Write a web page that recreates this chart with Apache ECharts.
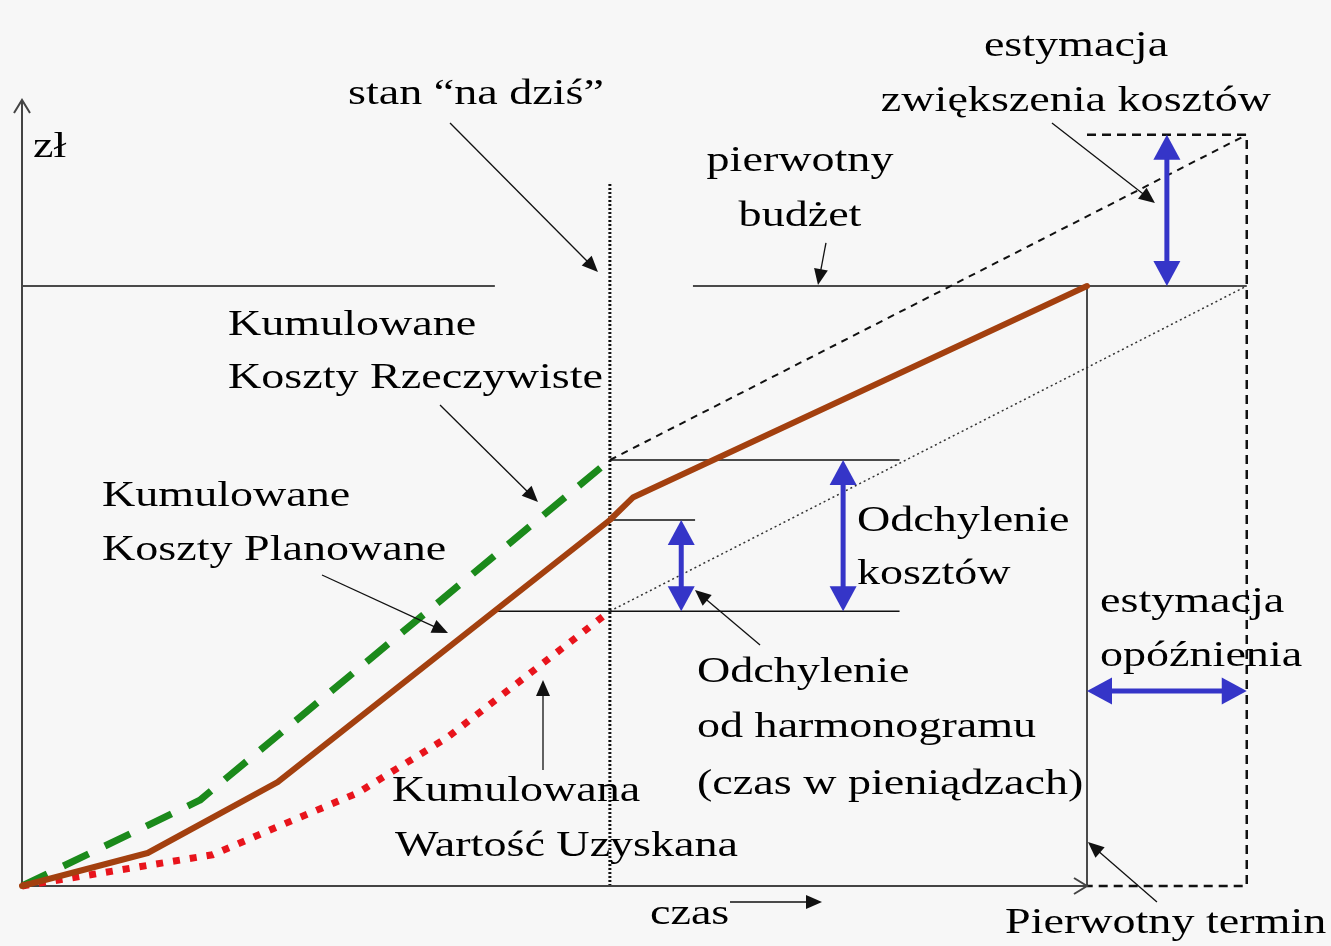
<!DOCTYPE html>
<html><head><meta charset="utf-8">
<script src="https://cdn.jsdelivr.net/npm/echarts@6/dist/echarts.min.js"></script>
<style>html,body{margin:0;padding:0;background:#f7f7f7}#c{width:1331px;height:946px}</style>
</head><body><div id="c"></div>
<script>
// ---------- data (time units: original deadline = 100, money units: original budget = 100)
const TODAY = 55.2;
const BUDGET = 100;
const ORIGINAL_END = 100;
const ESTIMATED_END = 115;
const EAC = 125.2;           // estimated cost at completion
const Y_TOP = 131;           // end of money axis
const TODAY_LINE_TOP = 117.3;

const pvTime  = [0, 11.8, 24.0, 55.2, 57.4, 100];
const pvValue = [0, 5.5, 17.3, 61, 64.8, 100];
const acTime  = [0, 16.7, 55.2];
const acValue = [0, 14.3, 71];
const evTime  = [0, 17.9, 23.9, 31.5, 39.9, 55.2];
const evValue = [0, 5.2, 9.8, 15.5, 24.7, 45.8];

const PV_TODAY = 61, AC_TODAY = 71, EV_TODAY = 45.8;

// reference-line extents (time units)
const budgetLeftEnd = 44.4, budgetRightStart = 63;
const acRefEnd = 82.4, pvRefStart = 55.5, pvRefEnd = 63.2, evRefStart = 44.2, evRefEnd = 82.4;
// double-arrow positions
const CV_X = 77.1, SV_X = 61.9, EAC_ARROW_X = 107.5, DELAY_Y = 32.5;

// annotation pointer arrows [fromT, fromV, toT, toV]
const pointerArrows = [
  [40.19, 127.17, 54.08, 102.33],   // stan "na dziś"
  [75.49, 107.17, 74.74, 100.17],   // pierwotny budżet
  [96.71, 127.17, 106.38, 113.83],  // estymacja zwiększenia kosztów
  [39.25, 80.17, 48.45, 64.0],      // Koszty Rzeczywiste
  [28.17, 51.83, 40.0, 42.17],      // Koszty Planowane
  [48.92, 19.33, 48.92, 34.33],     // Wartość Uzyskana
  [69.3, 40.17, 63.19, 49.33],      // Odchylenie od harmonogramu
  [106.57, -2.67, 100.09, 7.33],    // Pierwotny termin
  [66.48, -2.67, 75.12, -2.67]      // czas ->
];

const labels = [
  ['zł', 33, 148, 'left'],
  ['stan “na dziś”', 348, 95, 'left'],
  ['estymacja', 1076, 47, 'center'],
  ['zwiększenia kosztów', 1076, 102, 'center'],
  ['pierwotny', 800, 162, 'center'],
  ['budżet', 800, 217, 'center'],
  ['Kumulowane', 228, 326, 'left'],
  ['Koszty Rzeczywiste', 228, 379, 'left'],
  ['Kumulowane', 102, 497, 'left'],
  ['Koszty Planowane', 102, 551, 'left'],
  ['Odchylenie', 857, 522, 'left'],
  ['kosztów', 857, 575, 'left'],
  ['estymacja', 1100, 603, 'left'],
  ['opóźnienia', 1100, 657, 'left'],
  ['Odchylenie', 697, 673, 'left'],
  ['od harmonogramu', 697, 728, 'left'],
  ['(czas w pieniądzach)', 697, 785, 'left'],
  ['Kumulowana', 392, 792, 'left'],
  ['Wartość Uzyskana', 395, 847, 'left'],
  ['czas', 650, 915, 'left'],
  ['Pierwotny termin', 1005, 924, 'left']
];

// ---------- layout
const W = 1331, H = 946, ORIGIN = [22, 886], X_PX = 10.65, Y_PX = 6;
const zip = (a, b) => a.map((v, i) => [v, b[i]]);

function seg(name, pts, style, z) {
  return { type: 'line', name, data: pts, showSymbol: false, symbol: 'none', silent: true, z: z || 2,
    lineStyle: Object.assign({ cap: 'butt', join: 'round' }, style) };
}

function arrowSeries(name, data, st) {
  return {
    type: 'custom', name, coordinateSystem: 'cartesian2d', silent: true, z: st.z || 5,
    encode: { x: [0, 2], y: [1, 3] }, data,
    renderItem(params, api) {
      const a = api.coord([api.value(0), api.value(1)]);
      const b = api.coord([api.value(2), api.value(3)]);
      const dx = b[0] - a[0], dy = b[1] - a[1], L = Math.hypot(dx, dy);
      const ux = dx / L, uy = dy / L, nx = -uy, ny = ux;
      const hl = st.headLen, hw = st.headWidth / 2;
      const head = (tip, sx, sy) => {
        const bx = tip[0] - sx * hl, by = tip[1] - sy * hl;
        const pts = [[bx + nx * hw, by + ny * hw], tip, [bx - nx * hw, by - ny * hw]];
        return st.open
          ? { type: 'polyline', shape: { points: pts }, style: { stroke: st.color, lineWidth: st.width, fill: null } }
          : { type: 'polygon', shape: { points: pts }, style: { fill: st.color } };
      };
      let s = a, e = b;
      if (!st.open) {
        e = [b[0] - ux * hl * 0.8, b[1] - uy * hl * 0.8];
        if (st.double) s = [a[0] + ux * hl * 0.8, a[1] + uy * hl * 0.8];
      }
      const children = [
        { type: 'line', shape: { x1: s[0], y1: s[1], x2: e[0], y2: e[1] }, style: { stroke: st.color, lineWidth: st.width } },
        head(b, ux, uy)
      ];
      if (st.double) children.push(head(a, -ux, -uy));
      return { type: 'group', children };
    }
  };
}

const BLACK = '#111';
const chart = echarts.init(document.getElementById('c'), null, { renderer: 'canvas' });
chart.setOption({
  backgroundColor: '#f7f7f7',
  animation: false,
  grid: { left: 0, right: 0, top: 0, bottom: 0, containLabel: false },
  xAxis: { type: 'value', min: -ORIGIN[0] / X_PX, max: (W - ORIGIN[0]) / X_PX,
    axisLine: { show: false }, axisTick: { show: false }, axisLabel: { show: false }, splitLine: { show: false } },
  yAxis: { type: 'value', min: -(H - ORIGIN[1]) / Y_PX, max: ORIGIN[1] / Y_PX,
    axisLine: { show: false }, axisTick: { show: false }, axisLabel: { show: false }, splitLine: { show: false } },
  series: [
    seg('today', [[TODAY, 0], [TODAY, TODAY_LINE_TOP]], { color: BLACK, width: 3, type: [2, 2] }),
    seg('budgetL', [[0, BUDGET], [budgetLeftEnd, BUDGET]], { color: BLACK, width: 1.5 }),
    seg('budgetR', [[budgetRightStart, BUDGET], [ESTIMATED_END, BUDGET]], { color: BLACK, width: 1.5 }),
    seg('acRef', [[TODAY, AC_TODAY], [acRefEnd, AC_TODAY]], { color: BLACK, width: 1.5 }),
    seg('pvRef', [[pvRefStart, PV_TODAY], [pvRefEnd, PV_TODAY]], { color: BLACK, width: 1.5 }),
    seg('evRef', [[evRefStart, EV_TODAY], [evRefEnd, EV_TODAY]], { color: BLACK, width: 1.5 }),
    seg('origEnd', [[ORIGINAL_END, 0], [ORIGINAL_END, BUDGET]], { color: BLACK, width: 1.5 }),
    seg('estBox', [[ORIGINAL_END, EAC], [ESTIMATED_END, EAC], [ESTIMATED_END, 0], [ORIGINAL_END, 0]],
      { color: BLACK, width: 2.5, type: [9, 6] }),
    seg('acForecast', [[TODAY, AC_TODAY], [ESTIMATED_END, EAC]], { color: BLACK, width: 2, type: [7, 6] }),
    seg('evForecast', [[TODAY, EV_TODAY], [ESTIMATED_END, BUDGET]], { color: '#333', width: 1.5, type: [2, 3] }),
    arrowSeries('axes', [[0, 0, 0, Y_TOP], [0, 0, ORIGINAL_END, 0]],
      { color: '#444', width: 2, headLen: 13, headWidth: 16, open: true, z: 3 }),
    seg('AC', zip(acTime, acValue), { color: '#1b8a1b', width: 7, type: [28, 18] }, 4),
    seg('EV', zip(evTime, evValue), { color: '#e8141c', width: 7, type: [7, 10] }, 4),
    seg('PV', zip(pvTime, pvValue), { color: '#a3400f', width: 6, cap: 'round' }, 4),
    arrowSeries('blue', [
      [CV_X, EV_TODAY, CV_X, AC_TODAY],
      [SV_X, EV_TODAY, SV_X, PV_TODAY],
      [EAC_ARROW_X, BUDGET, EAC_ARROW_X, EAC],
      [ORIGINAL_END, DELAY_Y, ESTIMATED_END, DELAY_Y]
    ], { color: '#3535c8', width: 5, headLen: 25, headWidth: 27, double: true, z: 6 }),
    arrowSeries('pointers', pointerArrows, { color: BLACK, width: 1.3, headLen: 16, headWidth: 14, z: 6 })
  ],
  graphic: labels.map(t => ({
    type: 'text', x: t[1], y: t[2], scaleX: 1.28, silent: true, z: 10,
    style: { text: t[0], font: '36px "Liberation Serif", "Times New Roman", serif', fill: '#000',
      align: t[3], verticalAlign: 'middle', textAlign: t[3], textVerticalAlign: 'middle' }
  }))
});
</script></body></html>
